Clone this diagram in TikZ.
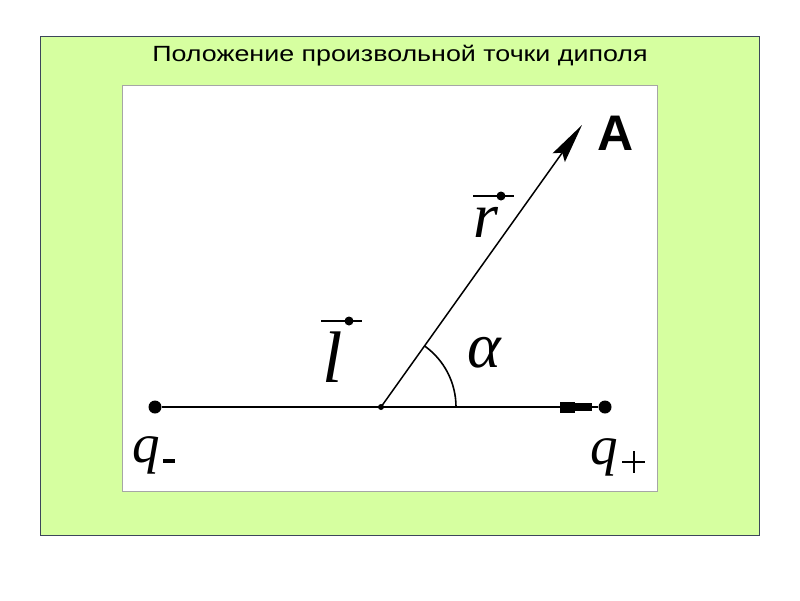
\documentclass[tikz,border=0pt]{standalone}
\usepackage{fontspec}
\setmainfont{Liberation Serif}
\newfontfamily\arialfont{Liberation Sans}
\usetikzlibrary{arrows.meta}
\definecolor{bggreen}{RGB}{214,255,160}
\definecolor{frame}{RGB}{60,70,90}
\begin{document}
\begin{tikzpicture}[x=1pt,y=-1pt,
  dotpt/.style={circle,fill=black,inner sep=0pt,minimum size=13pt},
  lbl/.style={inner sep=0pt},
  vecbar/.style={line width=2.2pt}]
\useasboundingbox (0,0) rectangle (800,600);
\draw[frame,fill=bggreen,line width=0.8pt] (40.5,36.5) rectangle (759.5,535.5);
\draw[gray!70,fill=white,line width=0.6pt] (122.5,85.5) rectangle (657.5,491.5);
\node[lbl,font=\arialfont\fontsize{22}{24}\selectfont] (title) at (400,56) {\scalebox{1.22}[1]{Положение произвольной точки диполя}};
\node[dotpt] (qm) at (155,407) {};
\node[dotpt] (qp) at (605,407) {};
\coordinate (O) at (381,407);
\coordinate (A) at (582,125);
\draw[line width=2.3pt] (qm) -- (qp);
\draw[line width=11pt] (560,407) -- (575,407);
\draw[line width=8pt] (574,407) -- (592,407);
\fill (O) circle (3);
\draw[line width=1.5pt,-{Stealth[length=40pt,width=15pt,inset=6pt]}] (O) -- (A);
\draw[line width=1.6pt] (456,407) arc (0:-54.5:75);
\node[lbl,font=\arialfont\bfseries\fontsize{50}{50}\selectfont] (Alab) at (616,133) {A};
\node[lbl,font=\itshape\fontsize{64}{64}\selectfont,anchor=base] (rlab) at (486,237) {r};
\draw[vecbar] (473,196) -- (514,196); \fill (501,196) circle (4.5);
\node[lbl,font=\itshape\fontsize{73}{73}\selectfont,anchor=base] (llab) at (333,382) {l};
\draw[vecbar] (321,321) -- (362,321); \fill (349,321) circle (4.5);
\node[lbl,font=\itshape\fontsize{64}{64}\selectfont,anchor=base] (alab) at (484,367) {α};
\node[lbl,font=\itshape\fontsize{55}{55}\selectfont,anchor=base] (qmlab) at (146,462) {q};
\draw[line width=3.5pt] (163,461) -- (175,461);
\node[lbl,font=\itshape\fontsize{55}{55}\selectfont,anchor=base] (qplab) at (604,464) {q};
\draw[line width=2pt] (622,462) -- (645,462) (633.5,451) -- (633.5,473);
\end{tikzpicture}
\end{document}
